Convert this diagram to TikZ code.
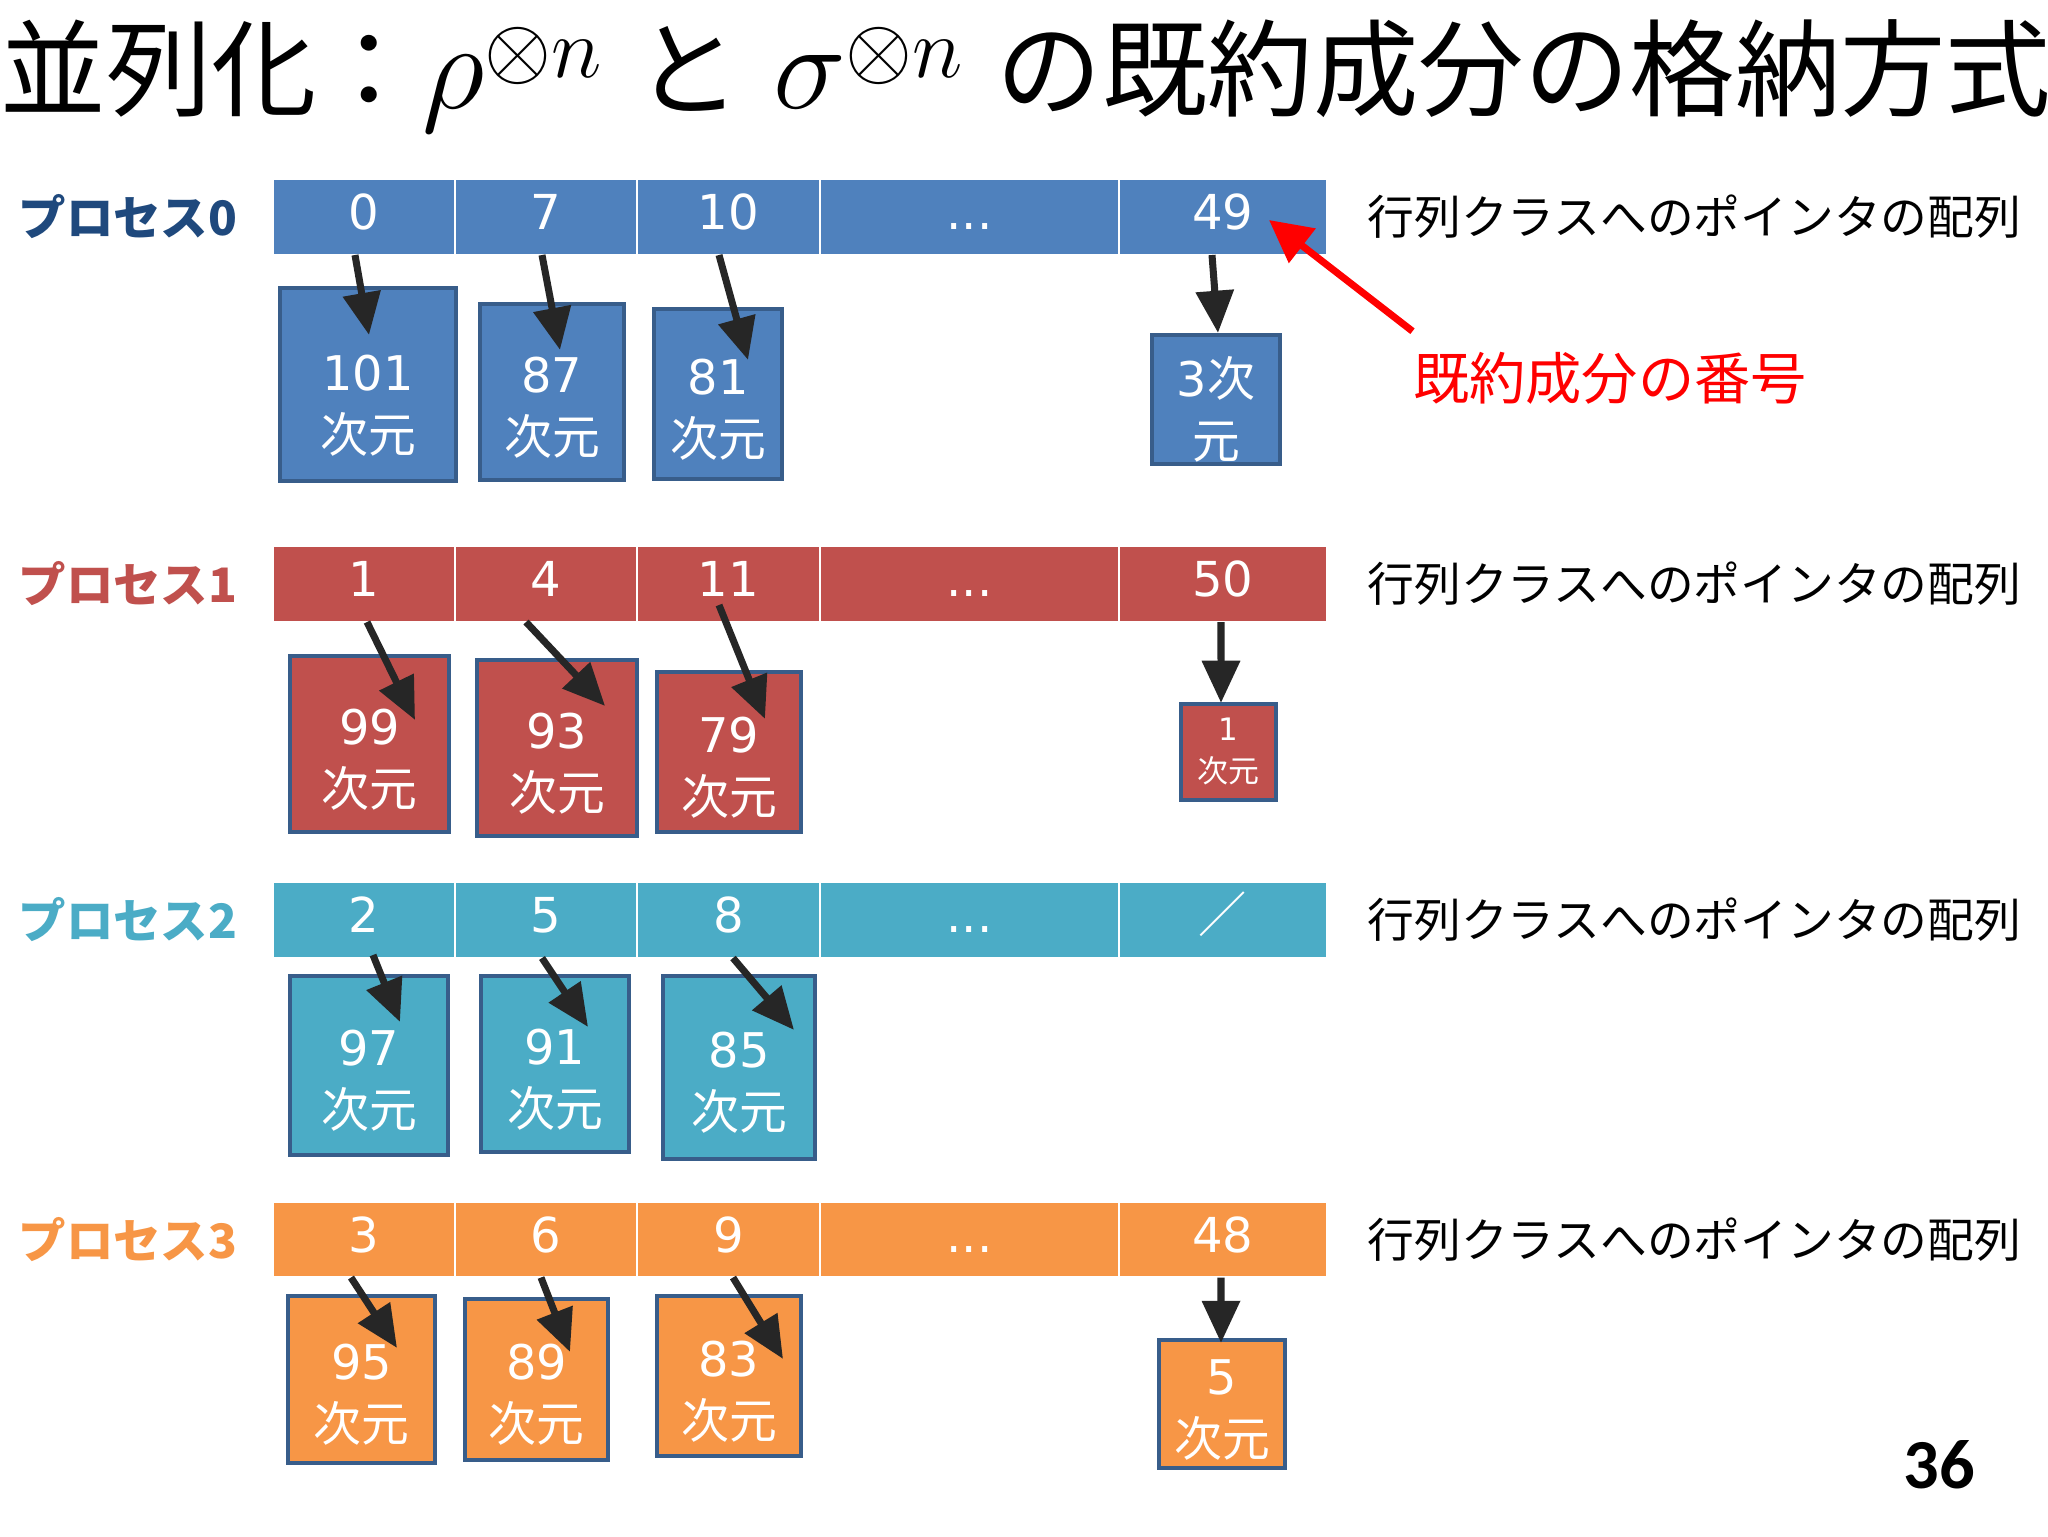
\RequirePackage{fix-cm}
\documentclass[tikz,border=0pt]{standalone}
\usepackage{fontspec}
\setmainfont{Noto Sans CJK JP}
\newfontfamily\digitfont{DejaVu Sans}
\newfontfamily\numfont{Carlito}
\usetikzlibrary{positioning,arrows.meta}
\definecolor{barblue}{HTML}{4F81BD}
\definecolor{barred}{HTML}{C0504D}
\definecolor{barteal}{HTML}{4BACC6}
\definecolor{barorange}{HTML}{F79646}
\definecolor{boxedge}{HTML}{385D8A}
\definecolor{procnavy}{HTML}{1F497D}
\definecolor{arrowgray}{HTML}{262626}
\definecolor{hintred}{HTML}{FF0000}

\begin{document}
\begin{tikzpicture}[x=0.1mm, y=-0.1mm,
  slot/.style={draw=white, line width=0.8pt, outer sep=0pt, fill=#1, text=white, minimum height=7.6mm, inner sep=0pt, font=\digitfont\fontsize{13.7}{16}\selectfont, text height=0.73em, text depth=0pt},
  dimbox/.style={draw=boxedge, line width=1.2pt, fill=#1, text=white, align=center, inner sep=0pt, font=\digitfont\fontsize{13.6}{17.6}\selectfont, text height=3.65em},
  ptr/.style={-{Triangle[length=12pt,width=10.5pt]}, line width=2pt, draw=arrowgray},
  hint/.style={-{Triangle[length=12pt,width=12pt]}, line width=2pt, draw=hintred},
  proc/.style={font=\fontsize{13.5}{16}\selectfont\bfseries, inner sep=0pt, text=#1},
  note/.style={font=\fontsize{13.3}{16}\selectfont, inner sep=0pt}]
  \useasboundingbox (0,0) rectangle (2048,1536);
  \fill[white] (0,0) rectangle (2048,1536);

  \node[font=\fontsize{30}{34}\selectfont, anchor=base, inner sep=0pt] (title) at (1026,108) {並列化：{\fontsize{35}{40}\selectfont$\rho^{\raisebox{-1.4mm}{$\scriptstyle\otimes n$}}$}\hspace{3.2mm}と\hspace{3.2mm}{\fontsize{35}{40}\selectfont$\sigma^{\raisebox{-1.4mm}{$\scriptstyle\otimes n$}}$}\hspace{3.2mm}の既約成分の格納方式};

  % process 0
  \node[slot=barblue, minimum width=18.2mm] (c00) at (364,217) {0};
  \node[slot=barblue, minimum width=18.2mm, right=0mm of c00] (c01) {7};
  \node[slot=barblue, minimum width=18.3mm, right=0mm of c01] (c02) {10};
  \node[slot=barblue, minimum width=29.9mm, right=0mm of c02] (c03) {...};
  \node[slot=barblue, minimum width=20.8mm, right=0mm of c03] (c04) {49};
  \node[proc=procnavy, left=3.5mm of c00] (p0) {プロセス0};
  \node[note, right=4mm of c04] (n0) {行列クラスへのポインタの配列};
  \node[dimbox=barblue, minimum width=17.6mm, minimum height=19.3mm, text height=3.95em] (b00) at (368,384.5) {101\\\rmfamily 次元};
  \node[dimbox=barblue, minimum width=14.4mm, minimum height=17.6mm] (b01) at (552,392) {87\\\rmfamily 次元};
  \node[dimbox=barblue, minimum width=12.8mm, minimum height=17mm] (b02) at (718,394) {81\\\rmfamily 次元};
  \node[dimbox=barblue, minimum width=12.8mm, minimum height=12.9mm, text height=3.45em] (b04) at (1216,399.5) {3{\rmfamily 次}\\\rmfamily 元};
  \draw[ptr] ([shift={(-9,0)}]c00.south) -- ([shift={(1,49)}]b00.north);
  \draw[ptr] ([shift={(-4,0)}]c01.south) -- ([shift={(8,48)}]b01.north);
  \draw[ptr] ([shift={(-9.5,0)}]c02.south) -- ([shift={(30,53)}]b02.north);
  \draw[ptr] ([shift={(-11,0)}]c04.south) -- ([shift={(2,0)}]b04.north);
  \node[font=\fontsize{16}{19}\selectfont, text=hintred, inner sep=0pt] (num) at (1610,378) {既約成分の番号};
  \draw[hint] ([shift={(0,-20)}]num.north west) -- ([shift={(46,3)}]c04.center);

  % process 1
  \node[slot=barred, minimum width=18.2mm] (c10) at (364,584) {1};
  \node[slot=barred, minimum width=18.2mm, right=0mm of c10] (c11) {4};
  \node[slot=barred, minimum width=18.3mm, right=0mm of c11] (c12) {11};
  \node[slot=barred, minimum width=29.9mm, right=0mm of c12] (c13) {...};
  \node[slot=barred, minimum width=20.8mm, right=0mm of c13] (c14) {50};
  \node[proc=barred, left=3.5mm of c10] (p1) {プロセス1};
  \node[note, right=4mm of c14] (n1) {行列クラスへのポインタの配列};
  \node[dimbox=barred, minimum width=15.9mm, minimum height=17.6mm] (b10) at (369.5,744) {99\\\rmfamily 次元};
  \node[dimbox=barred, minimum width=16mm, minimum height=17.6mm] (b11) at (557,748) {93\\\rmfamily 次元};
  \node[dimbox=barred, minimum width=14.4mm, minimum height=16mm] (b12) at (729,752) {79\\\rmfamily 次元};
  \node[dimbox=barred, minimum width=9.5mm, minimum height=9.6mm, font=\digitfont\fontsize{8.8}{12}\selectfont, text height=1.8em] (b14) at (1228.5,752) {1\\\rmfamily 次元};
  \draw[ptr] ([shift={(3,0)}]c10.south) -- ([shift={(45.5,66)}]b10.north);
  \draw[ptr] ([shift={(-20,0)}]c11.south) -- ([shift={(48,48)}]b11.north);
  \draw[ptr] ([shift={(-9.5,-17)}]c12.south) -- ([shift={(36,49)}]b12.north);
  \draw[ptr] ([shift={(-2,0)}]c14.south) -- ([shift={(-7.5,1)}]b14.north);

  % process 2
  \node[slot=barteal, minimum width=18.2mm] (c20) at (364,920) {2};
  \node[slot=barteal, minimum width=18.2mm, right=0mm of c20] (c21) {5};
  \node[slot=barteal, minimum width=18.3mm, right=0mm of c21] (c22) {8};
  \node[slot=barteal, minimum width=29.9mm, right=0mm of c22] (c23) {...};
  \node[slot=barteal, minimum width=20.8mm, right=0mm of c23] (c24) {\rmfamily ／};
  \node[proc=barteal, left=3.5mm of c20] (p2) {プロセス2};
  \node[note, right=4mm of c24] (n2) {行列クラスへのポインタの配列};
  \node[dimbox=barteal, minimum width=15.8mm, minimum height=17.9mm] (b20) at (369,1065.5) {97\\\rmfamily 次元};
  \node[dimbox=barteal, minimum width=14.8mm, minimum height=17.6mm] (b21) at (555,1064) {91\\\rmfamily 次元};
  \node[dimbox=barteal, minimum width=15.2mm, minimum height=18.3mm] (b22) at (739,1067.5) {85\\\rmfamily 次元};
  \draw[ptr] ([shift={(9,-3)}]c20.south) -- ([shift={(31,48)}]b20.north);
  \draw[ptr] ([shift={(-4,0)}]c21.south) -- ([shift={(33,53)}]b21.north);
  \draw[ptr] ([shift={(4.5,0)}]c22.south) -- ([shift={(55,56)}]b22.north);

  % process 3
  \node[slot=barorange, minimum width=18.2mm] (c30) at (364,1239.5) {3};
  \node[slot=barorange, minimum width=18.2mm, right=0mm of c30] (c31) {6};
  \node[slot=barorange, minimum width=18.3mm, right=0mm of c31] (c32) {9};
  \node[slot=barorange, minimum width=29.9mm, right=0mm of c32] (c33) {...};
  \node[slot=barorange, minimum width=20.8mm, right=0mm of c33] (c34) {48};
  \node[proc=barorange, left=3.5mm of c30] (p3) {プロセス3};
  \node[note, right=4mm of c34] (n3) {行列クラスへのポインタの配列};
  \node[dimbox=barorange, minimum width=14.7mm, minimum height=16.7mm] (b30) at (361.5,1379.5) {95\\\rmfamily 次元};
  \node[dimbox=barorange, minimum width=14.3mm, minimum height=16.1mm] (b31) at (536.5,1379.5) {89\\\rmfamily 次元};
  \node[dimbox=barorange, minimum width=14.4mm, minimum height=16mm] (b32) at (729,1376) {83\\\rmfamily 次元};
  \node[dimbox=barorange, minimum width=12.6mm, minimum height=12.8mm, text height=3.1em] (b34) at (1222,1404) {5\\\rmfamily 次元};
  \draw[ptr] ([shift={(-13,0)}]c30.south) -- ([shift={(35.5,54)}]b30.north);
  \draw[ptr] ([shift={(-5,0)}]c31.south) -- ([shift={(33.5,55)}]b31.north);
  \draw[ptr] ([shift={(4.5,0)}]c32.south) -- ([shift={(54,65)}]b32.north);
  \draw[ptr] ([shift={(-2,0)}]c34.south) -- ([shift={(-1,5)}]b34.north);

  \node[font=\numfont\bfseries\fontsize{20}{24}\selectfont] (pg) at (1939,1465) {36};
\end{tikzpicture}
\end{document}
